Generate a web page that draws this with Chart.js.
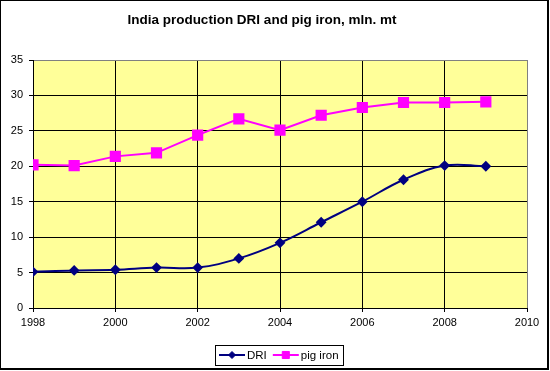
<!DOCTYPE html>
<html>
<head>
<meta charset="utf-8">
<script src="https://cdn.jsdelivr.net/npm/chart.js@4/dist/chart.umd.min.js"></script>
<style>
    html, body { margin: 0; padding: 0; background: #fff; }
    #wrap { width: 550px; height: 371px; position: relative; }
</style>
</head>
<body>
<div id="wrap"><canvas id="chart" width="550" height="371"></canvas></div>
<script>
const chartTitle = 'India production DRI and pig iron, mln. mt';
const years = [1998, 1999, 2000, 2001, 2002, 2003, 2004, 2005, 2006, 2007, 2008, 2009];
const driValues = [5.1, 5.3, 5.4, 5.7, 5.7, 7.0, 9.2, 12.1, 15.0, 18.1, 20.1, 20.0];
const pigIronValues = [20.2, 20.1, 21.4, 21.9, 24.4, 26.7, 25.1, 27.2, 28.3, 29.0, 29.0, 29.1];
const xRange = [1998, 2010];
const yRange = [0, 35];

const fontFamily = '"Liberation Sans", Arial, sans-serif';

function points(values) {
    return years.map((year, i) => ({ x: year, y: values[i] }));
}

const frameAndTitle = {
    id: 'frameAndTitle',
    beforeDraw(chart) {
        const { ctx, chartArea } = chart;
        ctx.save();
        ctx.fillStyle = '#ffffff';
        ctx.fillRect(0, 0, chart.width, chart.height);
        ctx.fillStyle = '#ffff99';
        ctx.fillRect(chartArea.left, chartArea.top, chartArea.right - chartArea.left, chartArea.bottom - chartArea.top);
        ctx.restore();
    },
    afterDraw(chart) {
        const { ctx } = chart;
        ctx.save();
        // outer border of the chart
        ctx.fillStyle = '#000000';
        ctx.fillRect(0, 0, 549, 1);
        ctx.fillRect(0, 0, 1, 370);
        ctx.fillRect(547, 0, 2, 370);
        ctx.fillRect(0, 368, 549, 2);

        ctx.font = 'bold 13.5px ' + fontFamily;
        ctx.textAlign = 'center';
        ctx.textBaseline = 'alphabetic';
        ctx.fillStyle = '#000000';
        ctx.fillText(chartTitle, 262, 24);
        ctx.restore();
    },
};

const boxedLegend = {
    id: 'boxedLegend',
    afterDraw(chart) {
        const { ctx } = chart;
        const box = { left: 215, top: 345, width: 128, height: 20 };
        const midY = box.top + box.height / 2;

        ctx.save();
        ctx.fillStyle = '#ffffff';
        ctx.fillRect(box.left, box.top, box.width, box.height);
        ctx.strokeStyle = '#000000';
        ctx.lineWidth = 1;
        ctx.strokeRect(box.left + 0.5, box.top + 0.5, box.width, box.height);

        ctx.font = '11.5px ' + fontFamily;
        ctx.textBaseline = 'middle';
        ctx.textAlign = 'left';

        let x = box.left + 4;
        chart.data.datasets.forEach((dataset) => {
            ctx.strokeStyle = dataset.borderColor;
            ctx.lineWidth = 2;
            ctx.beginPath();
            ctx.moveTo(x, midY);
            ctx.lineTo(x + 26, midY);
            ctx.stroke();

            ctx.fillStyle = dataset.pointBackgroundColor;
            ctx.strokeStyle = dataset.pointBorderColor;
            ctx.lineWidth = 1;
            Chart.helpers.drawPoint(ctx, {
                pointStyle: dataset.pointStyle,
                radius: dataset.legendRadius,
                borderWidth: 1,
            }, x + 13, midY);

            ctx.fillStyle = '#000000';
            ctx.fillText(dataset.label, x + 28, midY + 1);
            x += 28 + ctx.measureText(dataset.label).width + 6;
        });
        ctx.restore();
    },
};

function gridColor(max) {
    return (context) => (context.tick && context.tick.value === max ? '#808080' : '#000000');
}

new Chart(document.getElementById('chart'), {
    type: 'line',
    data: {
        datasets: [
            {
                label: 'DRI',
                data: points(driValues),
                borderColor: '#000080',
                backgroundColor: '#000080',
                pointBackgroundColor: '#000080',
                pointBorderColor: '#000080',
                pointStyle: 'rectRot',
                pointRadius: 4,
                legendRadius: 3.5,
                borderWidth: 2,
                tension: 0.4,
            },
            {
                label: 'pig iron',
                data: points(pigIronValues),
                borderColor: '#ff00ff',
                backgroundColor: '#ff00ff',
                pointBackgroundColor: '#ff00ff',
                pointBorderColor: '#ff00ff',
                pointStyle: 'rect',
                pointRadius: 6.5,
                legendRadius: 5,
                borderWidth: 2,
                tension: 0,
            },
        ],
    },
    options: {
        responsive: false,
        animation: false,
        layout: {
            padding: { left: 0, top: 60, right: 23, bottom: 43 },
        },
        plugins: {
            legend: { display: false },
            title: { display: false },
            tooltip: { enabled: false },
        },
        scales: {
            x: {
                type: 'linear',
                min: xRange[0],
                max: xRange[1],
                afterFit(scale) { scale.height = 20; },
                ticks: {
                    stepSize: 2,
                    color: '#000000',
                    padding: 4,
                    font: { family: fontFamily, size: 11 },
                    callback: (value) => String(value),
                },
                grid: {
                    color: gridColor(xRange[1]),
                    tickColor: '#000000',
                    tickLength: 4,
                    lineWidth: 1,
                },
                border: { color: '#000000', width: 1 },
            },
            y: {
                min: yRange[0],
                max: yRange[1],
                afterFit(scale) { scale.width = 33; },
                ticks: {
                    stepSize: 5,
                    color: '#000000',
                    padding: 6,
                    font: { family: fontFamily, size: 11 },
                },
                grid: {
                    color: gridColor(yRange[1]),
                    tickColor: '#000000',
                    tickLength: 4,
                    lineWidth: 1,
                },
                border: { color: '#000000', width: 1 },
            },
        },
    },
    plugins: [frameAndTitle, boxedLegend],
});
</script>
</body>
</html>
